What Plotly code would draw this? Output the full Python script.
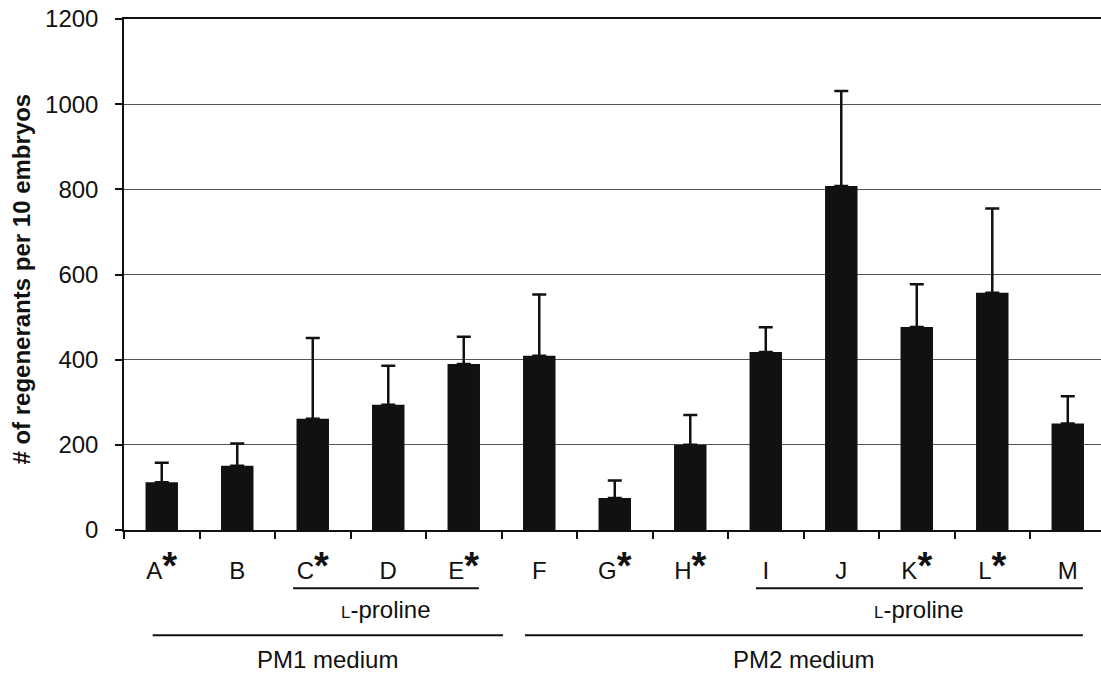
import plotly.graph_objects as go

# ---- data ----
categories = ["A", "B", "C", "D", "E", "F", "G", "H", "I", "J", "K", "L", "M"]
starred = [True, False, True, False, True, False, True, True, False, False, True, True, False]
means = [112, 151, 261, 294, 390, 409, 75, 200, 418, 808, 477, 557, 250]
errors = [46, 52, 190, 92, 64, 144, 41, 70, 58, 223, 100, 198, 64]
y_ticks = [0, 200, 400, 600, 800, 1000, 1200]

inner_groups = [("L-proline", "C", "E"), ("L-proline", "I", "M")]
outer_groups = [("PM1 medium", "A", "E"), ("PM2 medium", "F", "M")]

# ---- styling ----
FONT = "Arial, 'Liberation Sans', sans-serif"
inner_pad = [(0.26, 0.20), (0.13, 0.20)]
outer_pad = [(0.12, 0.52), (0.19, 0.20)]
inner_line_y, inner_text_y = -0.114, -0.156
outer_line_y, outer_text_y = -0.206, -0.254

x_idx = list(range(len(categories)))
star_html = '<span style="font-size:38px;font-weight:bold">*</span>'
tick_text = [c + (star_html if s else "") for c, s in zip(categories, starred)]

fig = go.Figure()
fig.add_trace(go.Bar(
    x=x_idx, y=means, width=0.43,
    marker=dict(color="#111111", line=dict(width=0)),
    error_y=dict(type="data", symmetric=False, array=errors,
                 arrayminus=[0] * len(errors), color="#111111",
                 thickness=2.5, width=7),
))

shapes, annotations = [], []

def small_caps(label):
    if label.startswith("L-"):
        return '<span style="font-size:17px">L</span>' + label[1:]
    return label

for (label, a, b), (pl, pr) in zip(inner_groups, inner_pad):
    x0 = categories.index(a) - pl
    x1 = categories.index(b) + pr
    shapes.append(dict(type="line", xref="x", yref="paper", x0=x0, x1=x1,
                       y0=inner_line_y, y1=inner_line_y,
                       line=dict(color="#111111", width=2)))
    annotations.append(dict(xref="x", yref="paper", x=(x0 + x1) / 2, y=inner_text_y,
                            text=small_caps(label), showarrow=False,
                            font=dict(size=24, color="#111111", family=FONT),
                            xanchor="center", yanchor="middle"))

for (label, a, b), (pl, pr) in zip(outer_groups, outer_pad):
    x0 = categories.index(a) - pl
    x1 = categories.index(b) + pr
    shapes.append(dict(type="line", xref="x", yref="paper", x0=x0, x1=x1,
                       y0=outer_line_y, y1=outer_line_y,
                       line=dict(color="#111111", width=2)))
    annotations.append(dict(xref="x", yref="paper", x=(x0 + x1) / 2, y=outer_text_y,
                            text=label, showarrow=False,
                            font=dict(size=24, color="#111111", family=FONT),
                            xanchor="center", yanchor="middle"))

annotations.append(dict(xref="paper", yref="paper", x=-0.1044, y=0.49,
                        text="<b># of regenerants per 10 embryos</b>", textangle=-90,
                        showarrow=False, xanchor="center", yanchor="middle",
                        font=dict(size=24, color="#111111", family=FONT)))

fig.update_layout(
    width=1101, height=682,
    margin=dict(l=124, r=0, t=19, b=152),
    paper_bgcolor="white", plot_bgcolor="white",
    showlegend=False,
    font=dict(family=FONT, size=24, color="#111111"),
    shapes=shapes, annotations=annotations,
    xaxis=dict(
        range=[-0.5, 12.44], tickvals=x_idx, ticktext=tick_text,
        ticks="", showgrid=False, zeroline=False,
        showline=True, mirror=True, linecolor="#111111", linewidth=1.5,
        ticklabelstandoff=18,
        tickfont=dict(size=24, family=FONT, color="#111111"),
        minor=dict(tick0=-0.5, dtick=1, ticks="outside", ticklen=7,
                   tickcolor="#111111", tickwidth=1.5, showgrid=False),
    ),
    yaxis=dict(
        range=[0, 1200], tickvals=y_ticks, ticks="outside", ticklen=7,
        tickcolor="#111111", tickwidth=1.5,
        showgrid=True, gridcolor="#555555", gridwidth=1,
        zeroline=False, showline=True, linecolor="#111111", linewidth=1.5,
        ticklabelstandoff=12,
        tickfont=dict(size=24, family=FONT, color="#111111"),
    ),
)

fig.write_html("out.html", config={"displayModeBar": False},
               post_script="document.body.style.margin='0';")
